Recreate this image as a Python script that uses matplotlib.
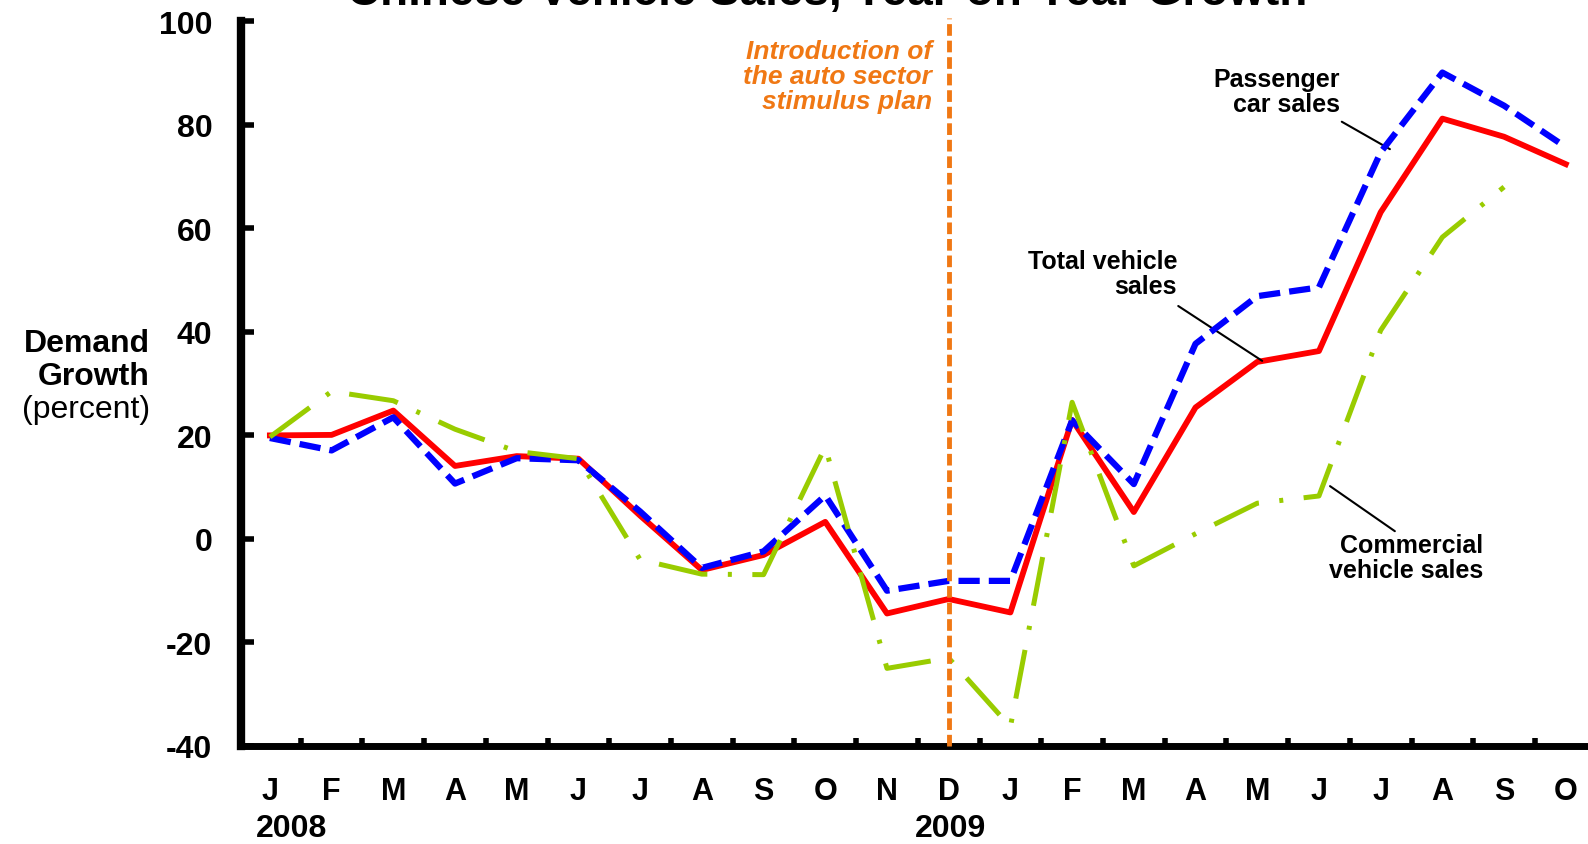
import numpy as np
import matplotlib.pyplot as plt

# months Jan 2008 .. Oct 2009
months = ['J', 'F', 'M', 'A', 'M', 'J', 'J', 'A', 'S', 'O', 'N', 'D',
          'J', 'F', 'M', 'A', 'M', 'J', 'J', 'A', 'S', 'O']
years = ['2008', '2009']

# year-on-year growth, percent
total_sales = [20.0, 20.1, 24.8, 14.1, 16.0, 15.5, 4.5, -6.0, -3.1, 3.3, -14.4, -11.6,
               -14.2, 23.0, 5.2, 25.4, 34.2, 36.3, 63.1, 81.2, 77.7, 72.4]
passenger_sales = [19.5, 17.1, 23.5, 10.7, 15.6, 15.2, 5.3, -5.6, -2.4, 8.4, -10.0, -8.1,
                   -8.1, 22.9, 10.6, 37.7, 46.9, 48.6, 74.7, 90.1, 83.7, 75.7]
commercial_sales = [19.7, 28.5, 26.7, 21.2, 16.9, 15.5, -4.0, -6.8, -6.9, 17.8, -25.0, -23.0,
                    -36.3, 26.4, -5.2, 1.0, 6.9, 8.3, 40.3, 58.3, 68.0, np.nan]

stimulus_month = 11  # December 2008

plt.rcParams['font.family'] = ['Liberation Sans', 'DejaVu Sans']
plt.rcParams['font.weight'] = 'bold'
plt.rcParams['axes.unicode_minus'] = False

W, H = 1588, 845
fig = plt.figure(figsize=(W / 100, H / 100), dpi=100)
ax = fig.add_axes([241.5 / W, 1 - 747 / H, 1 - 241.5 / W, (747 - 22.3) / H])

x = np.arange(len(months))
orange = '#F07814'

ax.plot(x, total_sales, color='#FF0000', lw=4.2, zorder=3)
ax.plot(x, passenger_sales, color='#0000FF', lw=4.5, dashes=(3.4, 1.45),
        dash_capstyle='butt', zorder=4)
ax.plot(x, commercial_sales, color='#99CC00', lw=3.6, dashes=(9.9, 4.1, 0.8, 4.1),
        dash_capstyle='butt', zorder=5)
ax.axvline(stimulus_month, ymin=0, ymax=1.005, color=orange, lw=3.5,
           dashes=(2.4, 1.0), clip_on=False, zorder=6)

ax.set_xlim(-0.46, 21.36)
ax.set_ylim(-40, 100)

for s in ['top', 'right']:
    ax.spines[s].set_visible(False)
ax.spines['left'].set_linewidth(6)
ax.spines['bottom'].set_linewidth(5)

ax.set_yticks(range(-40, 101, 20))
ax.tick_params(axis='y', direction='in', length=9, width=4, pad=21, labelsize=23)

ax.set_xticks(np.arange(0.5, len(months) - 1, 1))
ax.set_xticks(x, labels=months, minor=True)
ax.tick_params(axis='x', which='major', direction='in', length=6, width=4, labelbottom=False)
ax.tick_params(axis='x', which='minor', length=0, pad=21.5, labelsize=22)

fig.text(292 / W, 1 - 837 / H, years[0], ha='center', va='baseline', fontsize=23)
fig.text(950 / W, 1 - 837 / H, years[1], ha='center', va='baseline', fontsize=23)

# y-axis title
fig.text(150 / W, 1 - 352 / H, 'Demand', ha='right', va='baseline', fontsize=23)
fig.text(150 / W, 1 - 385 / H, 'Growth', ha='right', va='baseline', fontsize=23)
fig.text(150 / W, 1 - 418 / H, '(percent)', ha='right', va='baseline', fontsize=23,
         fontweight='normal')

# title sits partly above the top edge, as in the source image
fig.text(827 / W, 1 - 5 / H, 'Chinese Vehicle Sales, Year-on-Year Growth',
         ha='center', va='baseline', fontsize=33)

ax.text(10.73, 89.5, 'Introduction of\nthe auto sector\nstimulus plan', ha='right',
        va='center', color=orange, style='italic', fontsize=19, linespacing=1.05)

ax.text(17.34, 86.5, 'Passenger\ncar sales', ha='right', va='center', fontsize=18,
        linespacing=1.05)
ax.text(14.70, 51.2, 'Total vehicle\nsales', ha='right', va='center', fontsize=18,
        linespacing=1.05)
ax.text(19.66, -3.5, 'Commercial\nvehicle sales', ha='right', va='center', fontsize=18,
        linespacing=1.05)

leader = dict(arrowstyle='-', color='black', lw=1.5, shrinkA=0, shrinkB=0)
ax.annotate('', xy=(18.15, 75.3), xytext=(17.37, 80.6), arrowprops=leader)
ax.annotate('', xy=(16.08, 34.4), xytext=(14.72, 45.0), arrowprops=leader)
ax.annotate('', xy=(17.18, 10.2), xytext=(18.23, 1.5), arrowprops=leader)

fig.savefig('out.png', dpi=100)
